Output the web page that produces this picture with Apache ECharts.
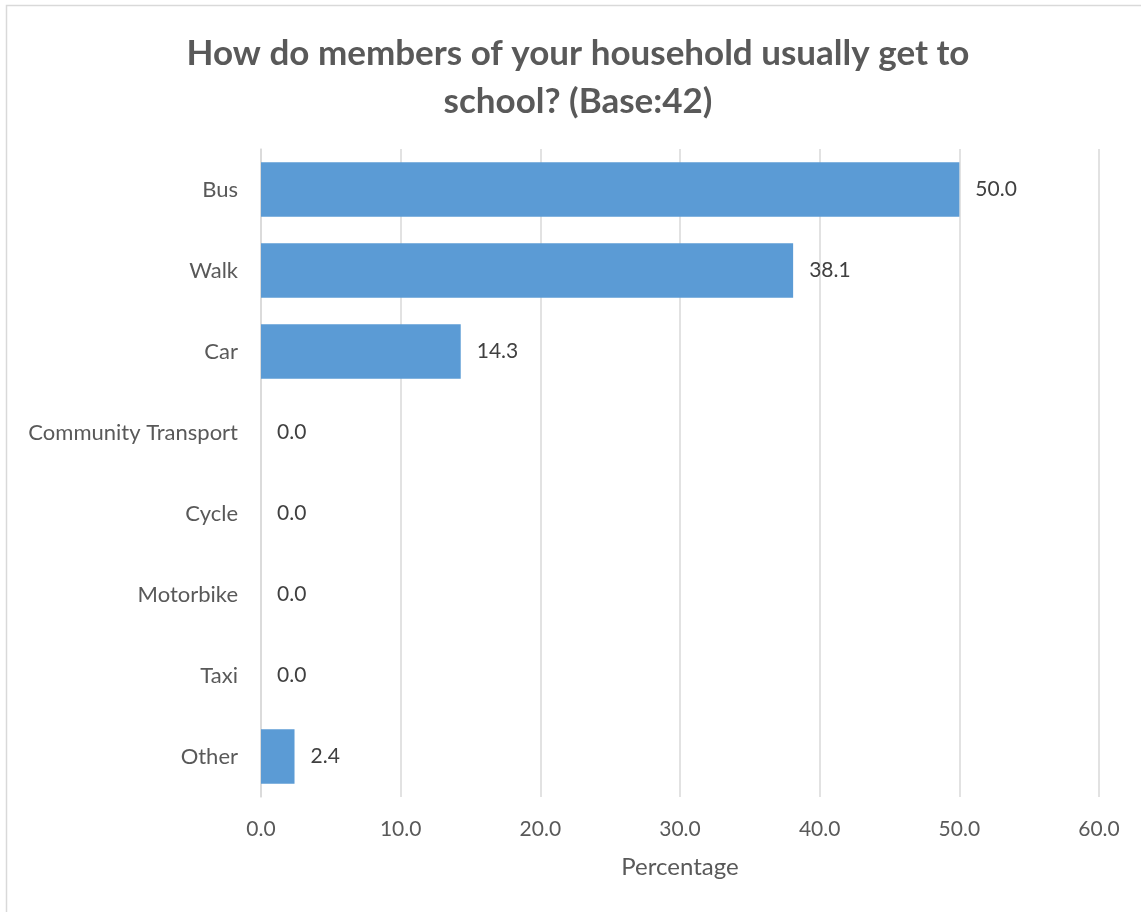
<!DOCTYPE html>
<html><head><meta charset="utf-8">
<script src="https://cdn.jsdelivr.net/npm/echarts@6/dist/echarts.min.js"></script>
<style>html,body{margin:0;padding:0;background:#fff}#c{width:1141px;height:912px}</style>
</head><body><div id="c"></div>
<script>
var categories = ["Bus","Walk","Car","Community Transport","Cycle","Motorbike","Taxi","Other"];
var values = [50.0,38.1,14.3,0.0,0.0,0.0,0.0,2.4];
var xTicks = [0,10,20,30,40,50,60];
var titleText = "How do members of your household usually get to\nschool? (Base:42)";
var FONT = "Lato, 'Open Sans', sans-serif";
var chart = echarts.init(document.getElementById('c'), null, {renderer:'canvas'});
chart.setOption({
  backgroundColor:'#fff',
  animation:false,
  graphic:[{type:'rect',shape:{x:6.5,y:5.5,width:1140,height:910},style:{fill:'none',stroke:'#d9d9d9',lineWidth:1.5},silent:true}],
  title:{text:titleText,left:573,top:25,textAlign:'center',textStyle:{fontFamily:FONT,fontWeight:'bold',fontSize:35,color:'#595959',lineHeight:48}},
  grid:{left:261,right:42,top:149,bottom:115,containLabel:false},
  xAxis:{type:'value',min:0,max:60,interval:10,
    axisLine:{show:false},axisTick:{show:false},
    splitLine:{lineStyle:{color:'#d9d9d9',width:1.5}},
    axisLabel:{color:'#595959',fontFamily:FONT,fontSize:21,margin:22,formatter:function(v){return v.toFixed(1);}},
    name:'Percentage',nameLocation:'middle',nameGap:58,nameTextStyle:{color:'#595959',fontFamily:FONT,fontSize:24}},
  yAxis:{type:'category',data:categories,inverse:true,
    axisLine:{show:true,lineStyle:{color:'#d9d9d9',width:1.5}},axisTick:{show:false},
    axisLabel:{color:'#595959',fontFamily:FONT,fontSize:22,margin:23}},
  series:[{type:'bar',data:values,barCategoryGap:'33%',itemStyle:{color:'#5b9bd5'},
    label:{show:true,position:'right',distance:16,color:'#404040',fontFamily:FONT,fontSize:21,formatter:function(p){return p.value.toFixed(1);}}}]
});
</script></body></html>
